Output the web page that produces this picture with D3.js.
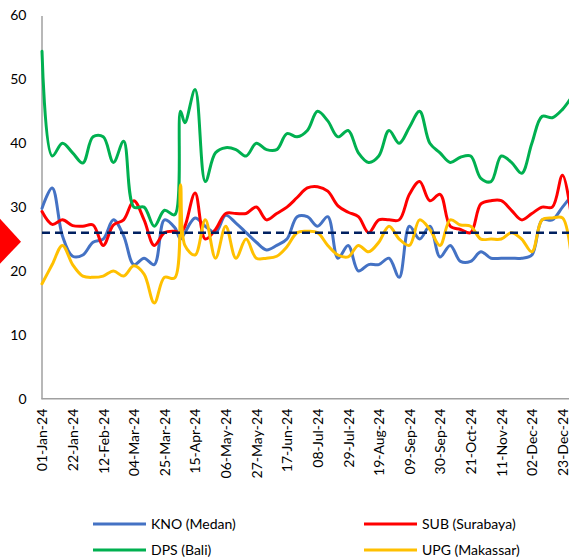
<!DOCTYPE html>
<html><head><meta charset="utf-8">
<script src="https://cdn.jsdelivr.net/npm/d3@7"></script>
<style>body{margin:0;background:#fff}svg{display:block}</style>
</head><body>
<svg id="c" width="569" height="558"></svg>
<script>
const dateLabels = ["01-Jan-24","08-Jan-24","15-Jan-24","22-Jan-24","29-Jan-24","05-Feb-24","12-Feb-24","19-Feb-24","26-Feb-24","04-Mar-24","11-Mar-24","18-Mar-24","25-Mar-24","01-Apr-24","05-Apr-24","08-Apr-24","15-Apr-24","22-Apr-24","29-Apr-24","06-May-24","13-May-24","20-May-24","27-May-24","03-Jun-24","10-Jun-24","17-Jun-24","24-Jun-24","01-Jul-24","08-Jul-24","15-Jul-24","22-Jul-24","29-Jul-24","05-Aug-24","12-Aug-24","19-Aug-24","26-Aug-24","02-Sep-24","09-Sep-24","16-Sep-24","23-Sep-24","30-Sep-24","07-Oct-24","14-Oct-24","21-Oct-24","28-Oct-24","04-Nov-24","11-Nov-24","18-Nov-24","25-Nov-24","02-Dec-24","09-Dec-24","16-Dec-24","23-Dec-24","30-Dec-24"];
const tickLabels = ["01-Jan-24","22-Jan-24","12-Feb-24","04-Mar-24","25-Mar-24","15-Apr-24","06-May-24","27-May-24","17-Jun-24","08-Jul-24","29-Jul-24","19-Aug-24","09-Sep-24","30-Sep-24","21-Oct-24","11-Nov-24","02-Dec-24","23-Dec-24"];
const yTicks = [0,10,20,30,40,50,60];
const benchmark = 26;
const seriesNames = ["KNO (Medan)","SUB (Surabaya)","DPS (Bali)","UPG (Makassar)"];
const seriesColors = ["#4472C4","#FF0000","#00B050","#FFC000"];
const kno = [29.8,33,25.5,22.3,22.5,24.5,25,28,25.5,21,22,21,28,26.8,25,26,28.3,27,26,28.7,27.5,26,24.5,23.3,24,25,28.5,28.5,27,28.5,22,24,20,21,21,22,19,27,25,27,22.2,24,21.5,21.5,23,22,22,22,22,22.5,28,28,30,32];
const sub = [29.3,27.3,28,27.1,27,27.2,24,27.2,28,31,28,24,26,26.2,26,27,32.2,25,26.5,29,29,29,30,28,29,30,31.5,33,33.2,32.5,30.2,29.2,28.5,26,28,28,28,32,34,31,32,27,26.5,26,30.5,31,31,29.5,28,29,30,30,35,27];
const dps = [54.4,38,40,38.5,36.9,41,41,37,40.3,30,30,27,29.5,28.8,45,43.2,48.4,34,38.5,39.3,39,38,40,39,39,41.5,41,42,45,43.5,41,42,38.5,37,38,42,40,42.5,45,40,38.5,37,37.8,38,34.5,34,38,37,35.3,40,44.2,44,45.3,47.5];
const upg = [18,21,24,21,19.2,19,19.2,20,19.2,20.8,19.5,15,19,18.9,33.5,24,22.5,28,22,27,22,25,22,22,22.3,23.8,26,26.2,26,24,22.5,22.2,24,23,24.5,27,25,24,28,26.5,24,28,27.2,27,25,25,25,26,25,23,28,28.3,28.3,20];
const seriesValues = [kno, sub, dps, upg];

const parse = d3.utcParse("%d-%b-%y");
const fmt = d3.utcFormat("%d-%b-%y");
const dates = dateLabels.map(parse);

const svg = d3.select("#c");
const font = "Lato, 'Liberation Sans', sans-serif";
const x = d3.scaleUtc().domain([parse(tickLabels[0]), parse(tickLabels[tickLabels.length - 1])]).range([42, 562.5]);
const y = d3.scaleLinear().domain([0, 60]).range([398.7, 15.5]);

// axes
const yAxis = svg.append("g").attr("transform", "translate(41.5,0)")
  .call(d3.axisLeft(y).tickValues(yTicks).tickSize(0).tickPadding(15));
yAxis.select(".domain").attr("stroke", "#A0A0A0").attr("stroke-width", 1.5);
yAxis.selectAll("text").attr("font-family", font).attr("font-size", 14).attr("fill", "#000");

const xAxis = svg.append("g").attr("transform", "translate(0,398.7)")
  .call(d3.axisBottom(x).tickValues(tickLabels.map(parse)).tickFormat(fmt).tickSize(0).tickPadding(0));
xAxis.select(".domain").attr("d", "M41.5,0H569").attr("stroke", "#A0A0A0").attr("stroke-width", 1.5);
xAxis.selectAll("text").attr("font-family", font).attr("font-size", 14).attr("fill", "#000")
  .attr("text-anchor", "end").attr("transform", "rotate(-90)").attr("x", -10).attr("y", 0).attr("dy", "0.35em");

// series
const line = d3.line().x((d, i) => x(dates[i])).y(d => y(d)).curve(d3.curveCatmullRom.alpha(0.5));
seriesValues.forEach((vals, k) => {
  svg.append("path").datum(vals).attr("d", line).attr("fill", "none")
    .attr("stroke", seriesColors[k]).attr("stroke-width", 3).attr("stroke-linejoin", "round").attr("stroke-linecap", "round");
});

// benchmark dashed line
svg.append("line").attr("x1", 42).attr("x2", 569).attr("y1", y(benchmark)).attr("y2", y(benchmark))
  .attr("stroke", "#002060").attr("stroke-width", 2.5).attr("stroke-dasharray", "8,5");

// red marker on the left
svg.append("path").attr("d", d3.line()([[0, y(benchmark) - 14], [21, y(benchmark) + 9], [0, y(benchmark) + 31]])).attr("fill", "#FF0000");

// legend
const legendPos = [[93, 524], [364, 524], [93, 550], [364, 550]];
seriesNames.forEach((n, k) => {
  const [lx, ly] = legendPos[k];
  svg.append("line").attr("x1", lx).attr("x2", lx + 53).attr("y1", ly).attr("y2", ly)
    .attr("stroke", seriesColors[k]).attr("stroke-width", 3);
  svg.append("text").attr("x", lx + 58).attr("y", ly).attr("dy", "0.35em")
    .attr("font-family", font).attr("font-size", 14).text(n);
});
</script>
</body></html>
